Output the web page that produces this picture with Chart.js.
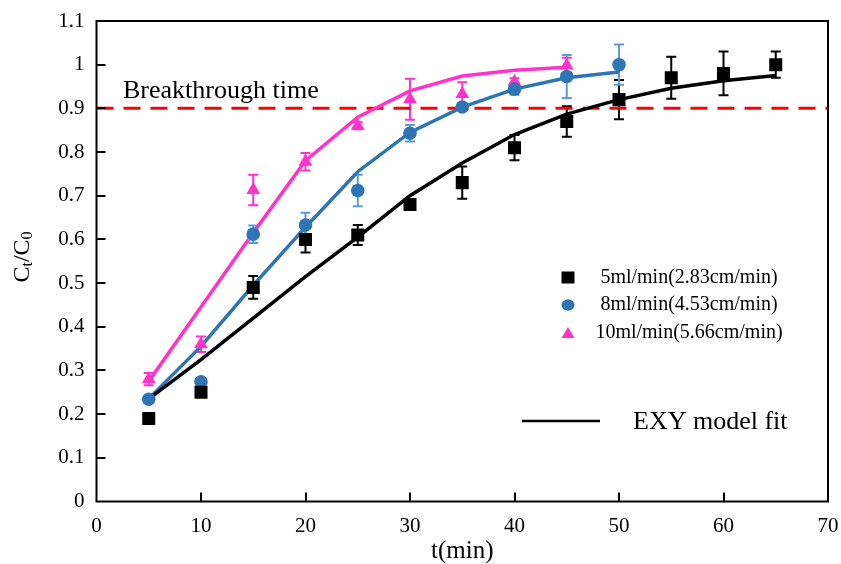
<!DOCTYPE html>
<html>
<head>
<meta charset="utf-8">
<script src="https://cdn.jsdelivr.net/npm/chart.js@4"></script>
<style>
  body { margin: 0; background: #fff; }
  #wrap { width: 841px; height: 564px; position: relative; }
</style>
</head>
<body>
<div id="wrap"><canvas id="chart"></canvas></div>
<script>
// time points (min)
const tBlack = [5, 10, 15, 20, 25, 30, 35, 40, 45, 50, 55, 60, 65];
const tBlue = [5, 10, 15, 20, 25, 30, 35, 40, 45, 50];
const tPink = [5, 10, 15, 20, 25, 30, 35, 40, 45];

// measured Ct/C0
const black = [0.19, 0.25, 0.49, 0.60, 0.61, 0.68, 0.73, 0.81, 0.87, 0.92, 0.97, 0.98, 1.00];
const blue = [0.234, 0.274, 0.612, 0.633, 0.712, 0.843, 0.903, 0.944, 0.973, 1.00];
const pink = [0.28, 0.36, 0.713, 0.778, 0.86, 0.921, 0.933, 0.961, 0.998];

// error bar half-widths
const blackErr = [0, 0, 0.026, 0.03, 0.023, 0.01, 0.037, 0.029, 0.035, 0.045, 0.048, 0.05, 0.03];
const blueErr = [0.005, 0.005, 0.02, 0.028, 0.036, 0.019, 0.006, 0.013, 0.049, 0.046];
const pinkErr = [0.014, 0.018, 0.035, 0.02, 0.008, 0.047, 0.027, 0.008, 0.018];

// EXY model fit curves
const blackFit = [0.235, 0.325, 0.42, 0.515, 0.605, 0.70, 0.775, 0.84, 0.887, 0.92, 0.946, 0.963, 0.975];
const blueFit = [0.235, 0.355, 0.495, 0.628, 0.755, 0.845, 0.903, 0.944, 0.97, 0.983];
const pinkFit = [0.275, 0.445, 0.615, 0.78, 0.88, 0.94, 0.974, 0.987, 0.994];

const breakthrough = 0.9;
const xTicks = [0, 10, 20, 30, 40, 50, 60, 70];

const labels = ['5ml/min(2.83cm/min)', '8ml/min(4.53cm/min)', '10ml/min(5.66cm/min)'];
const fitLabel = 'EXY model fit';

const SERIF = '"Liberation Serif", "Times New Roman", serif';
const BLACK = '#000000', BLUE = '#2e75b6', BLUE_ERR = '#5b9bd5', PINK = '#ff33cc';

const pts = (xs, ys) => xs.map((x, i) => ({ x, y: ys[i] }));

const errorBars = {
  id: 'errorBars',
  beforeDatasetsDraw(chart) {
    const { ctx, scales: { x, y } } = chart;
    const sets = [[tBlack, black, blackErr, BLACK], [tBlue, blue, blueErr, BLUE_ERR], [tPink, pink, pinkErr, PINK]];
    ctx.save();
    ctx.lineWidth = 2;
    sets.forEach(([xs, ys, es, col]) => {
      ctx.strokeStyle = col;
      xs.forEach((t, i) => {
        if (!es[i]) return;
        const px = x.getPixelForValue(t);
        const top = y.getPixelForValue(ys[i] + es[i]);
        const bot = y.getPixelForValue(ys[i] - es[i]);
        ctx.beginPath();
        ctx.moveTo(px, top); ctx.lineTo(px, bot);
        ctx.moveTo(px - 5, top); ctx.lineTo(px + 5, top);
        ctx.moveTo(px - 5, bot); ctx.lineTo(px + 5, bot);
        ctx.stroke();
      });
    });
    ctx.restore();
  }
};

const decorations = {
  id: 'decorations',
  afterDraw(chart) {
    const { ctx, chartArea: a, scales: { x, y } } = chart;
    ctx.save();
    // frame
    ctx.strokeStyle = '#000';
    ctx.lineWidth = 2;
    ctx.strokeRect(a.left, a.top, a.right - a.left, a.bottom - a.top);
    // inward ticks
    ctx.beginPath();
    y.ticks.forEach(tk => {
      if (tk.value <= 0.001 || tk.value >= 1.099) return;
      const py = Math.round(y.getPixelForValue(tk.value));
      ctx.moveTo(a.left, py); ctx.lineTo(a.left + 9, py);
    });
    x.ticks.forEach(tk => {
      if (tk.value <= 0 || tk.value >= 70) return;
      const px = Math.round(x.getPixelForValue(tk.value));
      ctx.moveTo(px, a.bottom); ctx.lineTo(px, a.bottom - 9);
    });
    ctx.stroke();

    // breakthrough text
    ctx.fillStyle = '#000';
    ctx.font = '26px ' + SERIF;
    ctx.textBaseline = 'middle';
    ctx.textAlign = 'left';
    ctx.fillText('Breakthrough time', 123, 91);

    // legend
    const rows = [277.5, 305, 333];
    const mx = 568;
    ctx.fillStyle = BLACK;
    ctx.fillRect(mx - 6.5, rows[0] - 6, 13, 12);
    ctx.fillStyle = BLUE;
    ctx.beginPath();
    ctx.ellipse(mx, rows[1], 6.5, 5.8, 0, 0, Math.PI * 2);
    ctx.fill();
    ctx.fillStyle = PINK;
    ctx.beginPath();
    ctx.moveTo(mx, rows[2] - 6); ctx.lineTo(mx + 6.5, rows[2] + 5); ctx.lineTo(mx - 6.5, rows[2] + 5);
    ctx.closePath();
    ctx.fill();
    ctx.fillStyle = '#000';
    ctx.font = '20px ' + SERIF;
    ctx.textAlign = 'center';
    labels.forEach((l, i) => ctx.fillText(l, 689, rows[i]));

    ctx.strokeStyle = '#000';
    ctx.lineWidth = 2.5;
    ctx.beginPath();
    ctx.moveTo(522, 421); ctx.lineTo(600, 421);
    ctx.stroke();
    ctx.font = '26px ' + SERIF;
    ctx.textAlign = 'left';
    ctx.fillText(fitLabel, 633, 422);

    // y axis title Ct/C0
    ctx.translate(23, 257);
    ctx.rotate(-Math.PI / 2);
    const big = '24px ' + SERIF, small = '16px ' + SERIF;
    const parts = [['C', big, 0], ['t', small, 5], ['/C', big, 0], ['0', small, 5]];
    let w = 0;
    parts.forEach(([s, f]) => { ctx.font = f; w += ctx.measureText(s).width; });
    let cx = -w / 2;
    ctx.textAlign = 'left';
    ctx.textBaseline = 'middle';
    parts.forEach(([s, f, dy]) => {
      ctx.font = f;
      ctx.fillText(s, cx, dy);
      cx += ctx.measureText(s).width;
    });
    ctx.restore();
  }
};

new Chart(document.getElementById('chart'), {
  type: 'scatter',
  data: {
    datasets: [
      { label: labels[0], data: pts(tBlack, black), pointStyle: 'rect', pointRadius: 9.2,
        backgroundColor: BLACK, borderColor: BLACK, borderWidth: 0, showLine: false },
      { label: labels[1], data: pts(tBlue, blue), pointStyle: 'circle', pointRadius: 6.8,
        backgroundColor: BLUE, borderColor: BLUE, borderWidth: 0, showLine: false },
      { label: labels[2], data: pts(tPink, pink), pointStyle: 'triangle', pointRadius: 8,
        backgroundColor: PINK, borderColor: PINK, borderWidth: 0, showLine: false },
      { label: 'fit5', data: pts(tBlack, blackFit), showLine: true, pointRadius: 0,
        borderColor: BLACK, borderWidth: 3.5, tension: 0 },
      { label: 'fit8', data: pts(tBlue, blueFit), showLine: true, pointRadius: 0,
        borderColor: BLUE, borderWidth: 3.5, tension: 0 },
      { label: 'fit10', data: pts(tPink, pinkFit), showLine: true, pointRadius: 0,
        borderColor: PINK, borderWidth: 3.5, tension: 0 },
      { label: 'Breakthrough time', data: [{ x: 0, y: breakthrough }, { x: 70, y: breakthrough }],
        showLine: true, pointRadius: 0, borderColor: '#ff0000', borderWidth: 3, borderDash: [17, 10] }
    ]
  },
  options: {
    responsive: true,
    maintainAspectRatio: false,
    animation: false,
    layout: { padding: { top: 21, right: 13, left: 0, bottom: 0 } },
    plugins: { legend: { display: false }, tooltip: { enabled: false } },
    scales: {
      x: {
        type: 'linear', min: 0, max: 70,
        afterFit: s => { s.height = 62.5; s.paddingLeft = 0; s.paddingRight = 0; },
        afterBuildTicks: s => { s.ticks = xTicks.map(v => ({ value: v })); },
        grid: { display: false, drawTicks: false },
        border: { display: false },
        ticks: { color: '#000', padding: 12, font: { family: SERIF, size: 21 } },
        title: { display: true, text: 't(min)', color: '#000', padding: { top: 0, bottom: -2 },
          font: { family: SERIF, size: 25 } }
      },
      y: {
        min: 0, max: 1.1,
        afterFit: s => { s.width = 96.5; s.paddingTop = 0; s.paddingBottom = 0; },
        grid: { display: false, drawTicks: false },
        border: { display: false },
        ticks: { stepSize: 0.1, color: '#000', padding: 12, font: { family: SERIF, size: 21 },
          callback: v => String(Number(v.toFixed(1))) }
      }
    }
  },
  plugins: [errorBars, decorations]
});
</script>
</body>
</html>
